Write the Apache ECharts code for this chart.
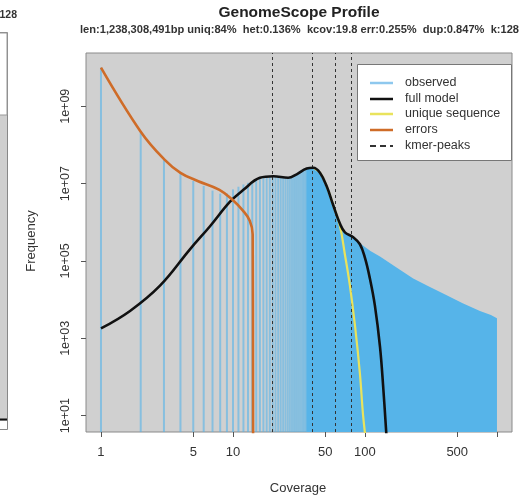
<!DOCTYPE html>
<html><head><meta charset="utf-8">
<script src="https://cdn.jsdelivr.net/npm/echarts@6/dist/echarts.min.js"></script>
<style>html,body{margin:0;padding:0;background:#fff}#c{width:522px;height:498px}</style>
</head><body><div id="c"></div>
<script>
// ---- text ----
const titleText = 'GenomeScope Profile';
const subtitleText = 'len:1,238,308,491bp uniq:84%  het:0.136%  kcov:19.8 err:0.255%  dup:0.847%  k:128';
const xAxisName = 'Coverage';
const yAxisName = 'Frequency';
const legendNames = ['observed', 'full model', 'unique sequence', 'errors', 'kmer-peaks'];

// ---- ticks ----
const xTicks = [1, 5, 10, 50, 100, 500, 1000];
const xTickLabels = [1, 5, 10, 50, 100, 500];
const yTicks = [1e1, 1e3, 1e5, 1e7, 1e9];

// ---- observed histogram (individual coverage values) ----
const obsX = [1,2,3,4,5,6,7,8,9,10,11,12,13,14,15,16,17,18,19,20,21,22,23,24,25,26,27,28,29,30,31,32,33,34,35,36,37,38,39,40,41,42,43,44,45];
const obsY = [1.0e10,2.1e8,4.0e7,1.8e7,1.17e7,8.7e6,6.6e6,5.5e6,5.6e6,7.1e6,8.3e6,9.5e6,1.05e7,1.15e7,1.23e7,1.38e7,1.48e7,1.55e7,1.58e7,1.58e7,1.55e7,1.51e7,1.48e7,1.45e7,1.45e7,1.45e7,1.48e7,1.55e7,1.66e7,1.78e7,1.91e7,2.04e7,2.19e7,2.34e7,2.45e7,2.51e7,2.57e7,2.63e7,2.63e7,2.57e7,2.51e7,2.40e7,2.24e7,2.04e7,1.86e7];
// ---- observed histogram envelope (dense region) ----
const tailX = [36,40,45,50,55,60,65,70,75,80,90,100,110,130,170,232,300,416,550,743,900,1000];
const tailY = [2.51e7,2.57e7,1.86e7,1.0e7,4.0e6,1.9e6,8.9e5,5.8e5,4.6e5,4.2e5,3.0e5,2.3e5,1.8e5,1.3e5,7.1e4,3.5e4,2.25e4,1.3e4,8.1e3,5.1e3,4.0e3,3.3e3];

// ---- full model ----
const modelX = [1,1.66,2.8,4.72,6.7,9.5,12,16,20.2,26.2,30.4,36.2,40.6,45.6,51.3,57.5,64.7,70.5,81.5,91.6,100,109,119,130,137.6,146];
const modelY = [1.8e3,5.1e3,2.3e4,2.0e5,7.9e5,3.4e6,6.9e6,1.41e7,1.55e7,1.41e7,1.74e7,2.45e7,2.57e7,1.91e7,8.5e6,2.75e6,9.1e5,5.5e5,4.1e5,2.7e5,1.2e5,3.5e4,6.9e3,600,52,2.5];

// ---- unique sequence ----
const uniqueX = [40.6,45.6,51.3,57.5,64.7,70.5,76.9,84.2,91.6,96.7,101.7];
const uniqueY = [2.57e7,1.91e7,8.5e6,2.75e6,7.9e5,1.45e5,2.3e4,2.0e3,120,10.5,2.2];

// ---- errors ----
const errX = [1,2,3,4,5.4,7.9,10,11.9,13.4,14.1,14.2];
const errY = [1.0e10,2.2e8,4.3e7,1.9e7,1.17e7,6.9e6,3.7e6,2.0e6,1.1e6,4.9e5,1];

// ---- kmer peaks ----
const peakX = [19.8, 39.6, 59.4, 79.2];

// ---- colours ----
const C_BG = '#d0d0d0', C_HIST = '#56B4E9', C_MODEL = '#111111', C_UNIQUE = '#e9e35c', C_ERR = '#cf6c28', C_PEAK = '#333333';

const X_MIN = 0.77, X_MAX = 1300, Y_MIN = 3.78, Y_MAX = 2.38e10;
const FONT = 'Liberation Sans, Arial, sans-serif';

const zip = (a, b) => a.map((v, i) => [v, b[i]]);
const fmtY = v => { const e = Math.round(Math.log10(v)); return '1e+' + (e < 10 ? '0' : '') + e; };

const chart = echarts.init(document.getElementById('c'), null, {renderer: 'canvas'});

const legendY = [83, 99, 114, 130, 146];
const legendColors = ['#8ec8ee', C_MODEL, C_UNIQUE, C_ERR, C_PEAK];
const legendGraphics = [{
  type: 'rect', z: 100, shape: {x: 357.5, y: 64.5, width: 154, height: 96},
  style: {fill: '#ffffff', stroke: '#777777', lineWidth: 1}
}];
legendNames.forEach((n, i) => {
  legendGraphics.push({
    type: 'line', z: 101, shape: {x1: 370, y1: legendY[i], x2: 393, y2: legendY[i]},
    style: {stroke: legendColors[i], lineWidth: i === 4 ? 2 : 2.5, lineDash: i === 4 ? [6, 4] : null}
  });
  legendGraphics.push({
    type: 'text', z: 101, x: 405, y: legendY[i],
    style: {text: n, font: '12.5px ' + FONT, fill: '#333', textAlign: 'left', textVerticalAlign: 'middle', align: 'left', verticalAlign: 'middle'}
  });
});

const sliver = [
  {type: 'rect', z: 50, shape: {x: -2, y: 32.5, width: 9.5, height: 397}, style: {fill: '#cfcfcf', stroke: '#888', lineWidth: 1}},
  {type: 'rect', z: 51, shape: {x: -2, y: 33, width: 9, height: 82}, style: {fill: '#fff', stroke: '#999', lineWidth: 1}},
  {type: 'rect', z: 51, shape: {x: -2, y: 421, width: 9, height: 8}, style: {fill: '#fff'}},
  {type: 'line', z: 52, shape: {x1: -2, y1: 419.5, x2: 7, y2: 419.5}, style: {stroke: '#111', lineWidth: 2}},
  {type: 'text', z: 52, x: 17, y: 15, style: {text: 'k:128', font: 'bold 10.5px ' + FONT, fill: '#333', textAlign: 'right', textVerticalAlign: 'middle', align: 'right', verticalAlign: 'middle'}}
];

const texts = [
  {type: 'text', z: 60, x: 299, y: 13, style: {text: titleText, font: 'bold 15.5px ' + FONT, fill: '#222', textAlign: 'center', textVerticalAlign: 'middle', align: 'center', verticalAlign: 'middle'}},
  {type: 'text', z: 60, x: 299.5, y: 30, style: {text: subtitleText, font: 'bold 11.1px ' + FONT, fill: '#333', textAlign: 'center', textVerticalAlign: 'middle', align: 'center', verticalAlign: 'middle'}},
  {type: 'text', z: 60, x: 298, y: 488, style: {text: xAxisName, font: '13px ' + FONT, fill: '#333', textAlign: 'center', textVerticalAlign: 'middle', align: 'center', verticalAlign: 'middle'}},
  {type: 'text', z: 60, x: 31, y: 241, rotation: Math.PI / 2, style: {text: yAxisName, font: '13px ' + FONT, fill: '#333', textAlign: 'center', textVerticalAlign: 'middle', align: 'center', verticalAlign: 'middle'}}
];

chart.setOption({
  animation: false,
  backgroundColor: '#ffffff',
  grid: {left: 86, top: 53, width: 426, height: 379, show: true, backgroundColor: C_BG, borderColor: '#8a8a8a', borderWidth: 1},
  xAxis: {
    type: 'log', logBase: 10, min: X_MIN, max: X_MAX,
    axisLine: {show: false}, splitLine: {show: false}, minorTick: {show: false},
    axisTick: {show: true, customValues: xTicks, length: 5, inside: false, lineStyle: {color: '#555', width: 1}},
    axisLabel: {customValues: xTickLabels, margin: 14, fontSize: 13, color: '#333', fontFamily: FONT}
  },
  yAxis: {
    type: 'log', logBase: 10, min: Y_MIN, max: Y_MAX,
    axisLine: {show: false}, splitLine: {show: false}, minorTick: {show: false},
    axisTick: {show: true, customValues: yTicks, length: 5, inside: false, lineStyle: {color: '#555', width: 1}},
    axisLabel: {customValues: yTicks, rotate: 90, margin: 14, fontSize: 12.5, color: '#333', fontFamily: FONT, formatter: fmtY}
  },
  series: [
    {
      name: 'observed-bars', type: 'custom', clip: true, z: 2,
      data: zip(obsX, obsY), encode: {x: 0, y: 1},
      renderItem: (params, api) => {
        const x = api.value(0), y = api.value(1);
        const top = api.coord([x, y]);
        const bot = api.coord([x, Y_MIN]);
        return {type: 'line', shape: {x1: top[0], y1: top[1], x2: bot[0], y2: bot[1]},
                style: {stroke: 'rgba(86,180,233,0.6)', lineWidth: 2}};
      }
    },
    {
      name: 'observed', type: 'line', z: 2, symbol: 'none', silent: true,
      data: zip(tailX, tailY),
      lineStyle: {width: 0}, areaStyle: {color: C_HIST, opacity: 1, origin: 'start'}
    },
    {
      name: 'unique sequence', type: 'line', z: 4, symbol: 'none', smooth: 0.4, clip: true,
      data: zip(uniqueX, uniqueY), lineStyle: {color: C_UNIQUE, width: 2.2}
    },
    {
      name: 'full model', type: 'line', z: 5, symbol: 'none', smooth: 0.4, clip: true,
      data: zip(modelX, modelY), lineStyle: {color: C_MODEL, width: 2.6},
      markLine: {
        symbol: 'none', silent: true, label: {show: false}, z: 3,
        lineStyle: {type: [3, 3], color: C_PEAK, width: 1},
        data: peakX.map(v => ({xAxis: v}))
      }
    },
    {
      name: 'errors', type: 'line', z: 6, symbol: 'none', smooth: 0.4, clip: true,
      data: zip(errX, errY), lineStyle: {color: C_ERR, width: 2.6}
    }
  ],
  graphic: {elements: sliver.concat(texts, legendGraphics)}
});
</script></body></html>
